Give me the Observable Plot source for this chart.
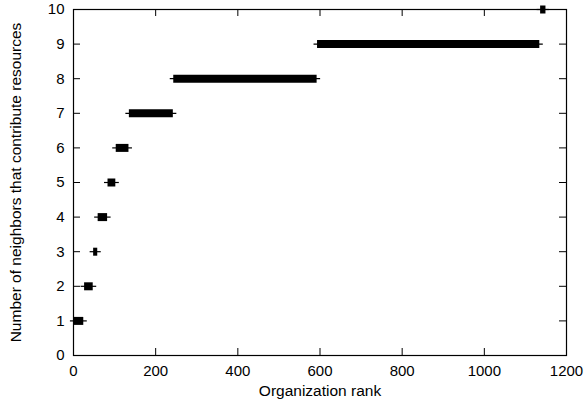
<!DOCTYPE html>
<html>
<head>
<meta charset="utf-8">
<script src="https://cdn.jsdelivr.net/npm/d3@7"></script>
<script src="https://cdn.jsdelivr.net/npm/@observablehq/plot@0.6"></script>
<style>
  html, body { margin: 0; padding: 0; background: #fff; }
  #chart { width: 587px; height: 411px; }
</style>
</head>
<body>
<div id="chart"></div>
<script>
// Number of contributing neighbours and the organisation ranks holding that value
const levels    = [1, 2, 3, 4, 5, 6, 7, 8, 9, 10];
const rankStart = [1, 27, 49, 60, 84, 104, 136, 244, 594, 1137];
const rankEnd   = [25, 48, 59, 83, 103, 135, 243, 593, 1135, 1150];

const xTicks = [0, 200, 400, 600, 800, 1000, 1200];
const yTicks = [0, 1, 2, 3, 4, 5, 6, 7, 8, 9, 10];

const xLabel = "Organization rank";
const yLabel = "Number of neighbors that contribute resources";

const segments = levels.map((y, i) => ({ y, start: rankStart[i], end: rankEnd[i] }));

const W = 587, H = 411;
const mL = 73, mR = 21, mT = 9, mB = 56;
const fw = W - mL - mR, fh = H - mT - mB;
const tk = 7;

const chart = Plot.plot({
  width: W,
  height: H,
  marginLeft: mL,
  marginRight: mR,
  marginTop: mT,
  marginBottom: mB,
  style: { fontFamily: "'Liberation Sans', Arial, sans-serif", fontSize: "15px", background: "#fff", color: "#000" },
  x: { domain: [0, 1200] },
  y: { domain: [0, 10] },
  marks: [
    Plot.frame({ stroke: "#000", strokeWidth: 1.2 }),
    // inward ticks on all four sides
    Plot.tickX(xTicks, { x: d => d, insetTop: fh - tk, stroke: "#000" }),
    Plot.tickX(xTicks, { x: d => d, insetBottom: fh - tk, stroke: "#000" }),
    Plot.tickY(yTicks, { y: d => d, insetRight: fw - tk, stroke: "#000" }),
    Plot.tickY(yTicks, { y: d => d, insetLeft: fw - tk, stroke: "#000" }),
    Plot.axisX({ ticks: xTicks, tickFormat: d => String(d), tickSize: 0, tickPadding: 10, label: null, fontSize: 15 }),
    Plot.axisY({ ticks: yTicks, tickFormat: d => String(d), tickSize: 0, tickPadding: 9, label: null, fontSize: 15 }),
    // thin whiskers
    Plot.ruleY(segments, { y: "y", x1: "start", x2: "end", insetLeft: -3.5, insetRight: -3.5, stroke: "#000", strokeWidth: 1.2 }),
    // thick bars
    Plot.ruleY(segments, { y: "y", x1: "start", x2: "end", stroke: "#000", strokeWidth: 8 }),
    Plot.text([xLabel], { frameAnchor: "bottom", dy: 40, fontSize: 15.5, fill: "#000" }),
    Plot.text([yLabel], { frameAnchor: "left", textAnchor: "middle", dx: -57, rotate: -90, fontSize: 15.5, fill: "#000" })
  ]
});
document.getElementById("chart").appendChild(chart);
</script>
</body>
</html>
